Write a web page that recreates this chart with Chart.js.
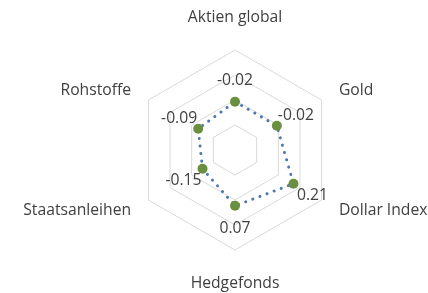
<!DOCTYPE html>
<html>
<head>
<meta charset="utf-8">
<script src="https://cdn.jsdelivr.net/npm/chart.js@4/dist/chart.umd.min.js"></script>
<style>
  html, body { margin: 0; padding: 0; background: #ffffff; }
  #wrap { width: 428px; height: 293px; }
</style>
</head>
<body>
<div id="wrap"><canvas id="c" width="428" height="293"></canvas></div>
<script>
const categories = ['Aktien global', 'Gold', 'Dollar Index', 'Hedgefonds', 'Staatsanleihen', 'Rohstoffe'];
const values = [-0.02, -0.02, 0.21, 0.07, -0.15, -0.09];
const scaleMin = -0.6;
const scaleMax = 0.6;
const scaleStep = 0.3;

const FONT = '15.7px "Open Sans"';
const TEXT = '#404040';

const labelPlugin = {
  id: 'excelLabels',
  afterDatasetsDraw(chart) {
    const sc = chart.scales.r;
    const ctx = chart.ctx;
    ctx.save();
    ctx.font = FONT;
    ctx.fillStyle = TEXT;
    ctx.textBaseline = 'middle';
    // data labels, pushed radially outward from each point
    values.forEach((v, i) => {
      const d = sc.getDistanceFromCenterForValue(v) + 22;
      const p = sc.getPointPosition(i, d);
      ctx.textAlign = 'center';
      ctx.fillText(v.toFixed(2), p.x, p.y + 0.5);
    });
    // category labels
    categories.forEach((c, i) => {
      const a = sc.getIndexAngle(i);
      const s = Math.sin(a);
      let d, align;
      if (Math.abs(s) < 0.01) { d = sc.drawingArea + 33; align = 'center'; }
      else { d = sc.drawingArea + 20; align = s > 0 ? 'left' : 'right'; }
      const p = sc.getPointPosition(i, d);
      ctx.textAlign = align;
      ctx.fillText(c, p.x, p.y + 0.5);
    });
    ctx.restore();
  }
};

new Chart(document.getElementById('c'), {
  type: 'radar',
  data: {
    labels: categories,
    datasets: [{
      data: values,
      borderColor: '#4e78b0',
      borderWidth: 3,
      borderDash: [0.1, 7.5],
      borderCapStyle: 'round',
      backgroundColor: 'rgba(0,0,0,0)',
      fill: false,
      tension: 0,
      pointRadius: 5,
      pointHoverRadius: 5,
      pointBackgroundColor: '#6b8f40',
      pointBorderColor: '#6b8f40',
      pointBorderWidth: 0
    }]
  },
  options: {
    responsive: false,
    devicePixelRatio: 1,
    animation: false,
    layout: { padding: { top: 50, bottom: 43, left: 135, right: 93 } },
    plugins: { legend: { display: false }, tooltip: { enabled: false } },
    scales: {
      r: {
        min: scaleMin,
        max: scaleMax,
        ticks: { stepSize: scaleStep, display: false },
        grid: { color: '#d9d9d9', lineWidth: 1 },
        angleLines: { display: false },
        pointLabels: { display: false }
      }
    }
  },
  plugins: [labelPlugin]
});
</script>
</body>
</html>
